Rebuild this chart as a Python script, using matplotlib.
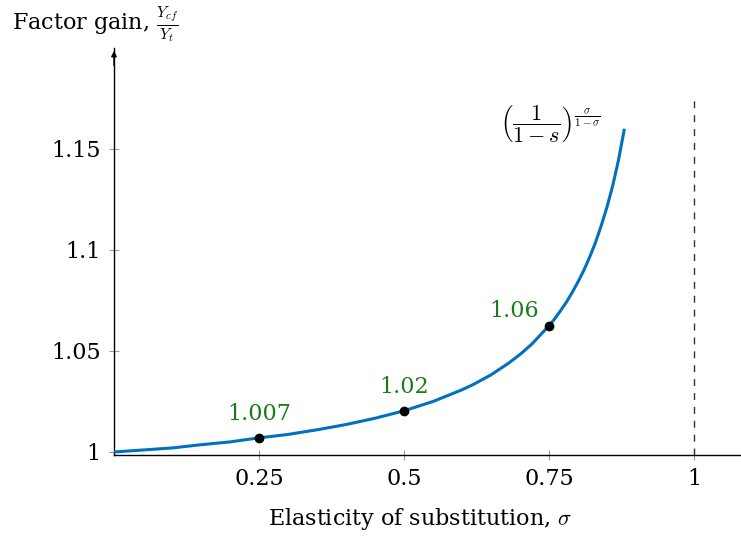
import matplotlib
matplotlib.use("Agg")
import matplotlib.pyplot as plt

plt.rcParams["font.family"] = ["DejaVu Serif"]
plt.rcParams["mathtext.fontset"] = "cm"

# curve values
sigma = [0.0, 0.05, 0.10, 0.15, 0.20, 0.25, 0.30, 0.35, 0.40, 0.45, 0.50,
         0.55, 0.60, 0.62, 0.65, 0.68, 0.70, 0.72, 0.75, 0.76, 0.77, 0.78,
         0.79, 0.80, 0.81, 0.82, 0.83, 0.84, 0.85, 0.86, 0.87, 0.88]
gain = [1.000, 1.001, 1.002, 1.0036, 1.005, 1.007, 1.0087, 1.011, 1.0136,
        1.0167, 1.0204, 1.025, 1.0308, 1.0335, 1.0382, 1.0439, 1.0483,
        1.0533, 1.0625, 1.066, 1.070, 1.0742, 1.079, 1.0842, 1.0899, 1.0964,
        1.1036, 1.112, 1.1213, 1.132, 1.1448, 1.160]

# marked points and their labels
mark_sigma = [0.25, 0.5, 0.75]
mark_gain = [1.007, 1.0204, 1.0625]
mark_text = ["1.007", "1.02", "1.06"]

xticks = [0.25, 0.5, 0.75, 1.0]
xtick_labels = ["0.25", "0.5", "0.75", "1"]
yticks = [1.0, 1.05, 1.1, 1.15]
ytick_labels = ["1", "1.05", "1.1", "1.15"]

W, H = 741, 536
fig = plt.figure(figsize=(W / 100, H / 100), dpi=100)
ax = fig.add_axes([114 / W, 1 - 455 / H, (W - 114) / W, (455 - 48) / H])

blue = "#0072bd"
green = "#1b7a1b"

ax.plot(sigma, gain, color=blue, lw=2.2, solid_capstyle="butt", zorder=3)
ax.plot(mark_sigma, mark_gain, "o", color="black", ms=6, zorder=4)

ax.annotate(mark_text[0], (mark_sigma[0], mark_gain[0]), xytext=(0, 9),
            textcoords="offset points", ha="center", va="bottom",
            color=green, fontsize=16)
ax.annotate(mark_text[1], (mark_sigma[1], mark_gain[1]), xytext=(0, 9),
            textcoords="offset points", ha="center", va="bottom",
            color=green, fontsize=16)
ax.annotate(mark_text[2], (mark_sigma[2], mark_gain[2]), xytext=(-7, 3),
            textcoords="offset points", ha="right", va="bottom",
            color=green, fontsize=16)

# vertical asymptote at sigma = 1
ax.plot([1.0, 1.0], [1 - 3 / 2020, 1.177],
        color="#333333", lw=1.0, ls=(0, (5, 5)), zorder=2)

ax.text(0.752, 1.1625,
        r"$\left(\dfrac{1}{1-s}\right)^{\frac{\sigma}{1-\sigma}}$",
        ha="center", va="center", fontsize=16)

ax.set_xlim(0, (W - 114) / 580)
ax.set_ylim(1 - 3 / 2020, 1.2)

ax.spines["top"].set_visible(False)
ax.spines["right"].set_visible(False)
for s in ("left", "bottom"):
    ax.spines[s].set_linewidth(1.0)

ax.set_xticks(xticks, xtick_labels, fontsize=16)
ax.set_yticks(yticks, ytick_labels, fontsize=16)
ax.tick_params(direction="inout", length=7, width=0.8, color="#999999", pad=6)

# arrow head on y axis
ax.annotate("", xy=(0, 1.2), xytext=(0, 1.19),
            arrowprops=dict(arrowstyle="-|>", color="black", lw=1.0,
                            mutation_scale=8), annotation_clip=False)

fig.text(12 / W, 1 - 25 / H, r"Factor gain, $\frac{Y_{cf}}{Y_t}$",
         ha="left", va="center", fontsize=16)
fig.text(420 / W, 1 - 519 / H, r"Elasticity of substitution, $\sigma$",
         ha="center", va="center", fontsize=16)

fig.savefig("out.png", dpi=100)
